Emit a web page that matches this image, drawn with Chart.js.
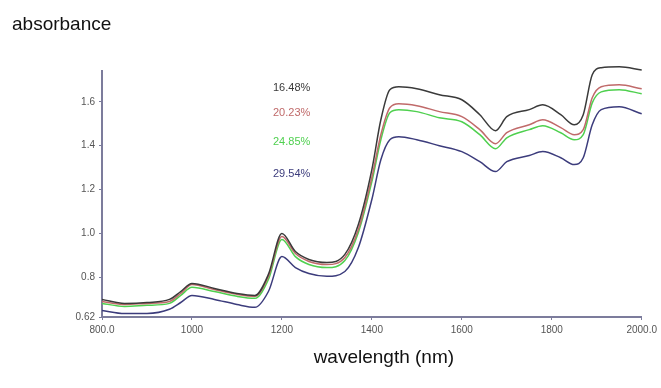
<!DOCTYPE html>
<html>
<head>
<meta charset="utf-8">
<script src="https://cdn.jsdelivr.net/npm/chart.js@4/dist/chart.umd.min.js"></script>
<style>
  html, body { margin: 0; padding: 0; background: #fff; }
  canvas { display: block; }
</style>
</head>
<body>
<canvas id="spectra" width="661" height="388"></canvas>
<script>
// wavelengths (nm)
const wavelengths = [800, 850, 900, 950, 975, 1000, 1050, 1100, 1140, 1170, 1200, 1230, 1260, 1300, 1340, 1370, 1400, 1420, 1440, 1460, 1500, 1550, 1600, 1640, 1675, 1700, 1750, 1780, 1820, 1850, 1870, 1890, 1910, 1950, 2000];

// absorbance per moisture content
const abs1648 = [0.700, 0.682, 0.686, 0.700, 0.736, 0.773, 0.750, 0.727, 0.718, 0.814, 1.000, 0.918, 0.882, 0.868, 0.905, 1.041, 1.291, 1.518, 1.655, 1.668, 1.659, 1.632, 1.609, 1.541, 1.468, 1.532, 1.564, 1.586, 1.541, 1.495, 1.541, 1.723, 1.755, 1.759, 1.745];
const abs2023 = [0.691, 0.677, 0.682, 0.691, 0.727, 0.768, 0.745, 0.723, 0.714, 0.805, 0.986, 0.909, 0.873, 0.859, 0.891, 1.018, 1.255, 1.450, 1.573, 1.591, 1.582, 1.555, 1.532, 1.473, 1.409, 1.459, 1.495, 1.518, 1.482, 1.450, 1.473, 1.618, 1.668, 1.677, 1.659];
const abs2485 = [0.682, 0.668, 0.673, 0.682, 0.718, 0.755, 0.736, 0.714, 0.705, 0.791, 0.973, 0.895, 0.859, 0.845, 0.877, 1.005, 1.236, 1.427, 1.550, 1.564, 1.555, 1.527, 1.509, 1.450, 1.386, 1.436, 1.473, 1.491, 1.459, 1.427, 1.450, 1.595, 1.645, 1.655, 1.636];
const abs2954 = [0.650, 0.636, 0.636, 0.655, 0.686, 0.718, 0.700, 0.677, 0.664, 0.736, 0.895, 0.845, 0.818, 0.805, 0.827, 0.936, 1.155, 1.336, 1.427, 1.441, 1.427, 1.400, 1.373, 1.327, 1.282, 1.327, 1.355, 1.373, 1.345, 1.314, 1.345, 1.495, 1.564, 1.577, 1.545];

const seriesLabels = ['16.48%', '20.23%', '24.85%', '29.54%'];
const seriesColors = ['#3a3a3a', '#c06a6a', '#4fd04f', '#3c3c7c'];

const xTicks = [800, 1000, 1200, 1400, 1600, 1800, 2000];
const xTickLabels = ['800.0', '1000', '1200', '1400', '1600', '1800', '2000.0'];
const yTicks = [0.62, 0.8, 1.0, 1.2, 1.4, 1.6];
const yTickLabels = ['0.62', '0.8', '1.0', '1.2', '1.4', '1.6'];

const allSeries = [abs1648, abs2023, abs2485, abs2954];
const axisColor = '#7c7c9c';
const font = 'Liberation Sans, Arial, sans-serif';

// titles and in-plot labels
const textPlugin = {
    id: 'texts',
    afterDraw(chart) {
        const ctx = chart.ctx;
        const area = chart.chartArea;
        ctx.save();
        ctx.fillStyle = '#111';
        ctx.font = '19px ' + font;
        ctx.textBaseline = 'middle';
        ctx.textAlign = 'left';
        ctx.fillText('absorbance', 12, 25);
        ctx.textAlign = 'center';
        ctx.fillText('wavelength (nm)', (area.left + area.right) / 2 + 12, 358);
        ctx.font = '11px ' + font;
        ctx.textAlign = 'left';
        const labelY = [88, 113, 142, 174];
        seriesLabels.forEach(function (t, i) {
            ctx.fillStyle = seriesColors[i];
            ctx.fillText(t, 273, labelY[i]);
        });
        ctx.restore();
    }
};

new Chart(document.getElementById('spectra').getContext('2d'), {
    type: 'line',
    data: {
        datasets: allSeries.map(function (vals, i) {
            return {
                label: seriesLabels[i],
                data: wavelengths.map(function (w, j) { return { x: w, y: vals[j] }; }),
                borderColor: seriesColors[i],
                borderWidth: 1.5,
                pointRadius: 0,
                fill: false,
                cubicInterpolationMode: 'monotone',
                clip: false
            };
        })
    },
    options: {
        responsive: false,
        animation: false,
        layout: { padding: { left: 0, right: 19, top: 71, bottom: 0 } },
        plugins: { legend: { display: false }, tooltip: { enabled: false } },
        scales: {
            x: {
                type: 'linear',
                min: 800,
                max: 2000,
                afterFit: function (s) { s.height = 71; },
                afterBuildTicks: function (s) { s.ticks = xTicks.map(function (v) { return { value: v }; }); },
                ticks: {
                    color: '#555',
                    font: { size: 10, family: font },
                    padding: 4,
                    maxRotation: 0,
                    callback: function (v) { return xTickLabels[xTicks.indexOf(v)]; }
                },
                grid: { drawOnChartArea: false, tickLength: 3, color: axisColor },
                border: { color: axisColor, width: 2 }
            },
            y: {
                type: 'linear',
                min: 0.62,
                max: 1.74,
                afterFit: function (s) { s.width = 102; },
                afterBuildTicks: function (s) { s.ticks = yTicks.map(function (v) { return { value: v }; }); },
                ticks: {
                    color: '#555',
                    font: { size: 10, family: font },
                    padding: 4,
                    callback: function (v) { return yTickLabels[yTicks.indexOf(v)]; }
                },
                grid: { drawOnChartArea: false, tickLength: 3, color: axisColor },
                border: { color: axisColor, width: 2 }
            }
        }
    },
    plugins: [textPlugin]
});
</script>
</body>
</html>
